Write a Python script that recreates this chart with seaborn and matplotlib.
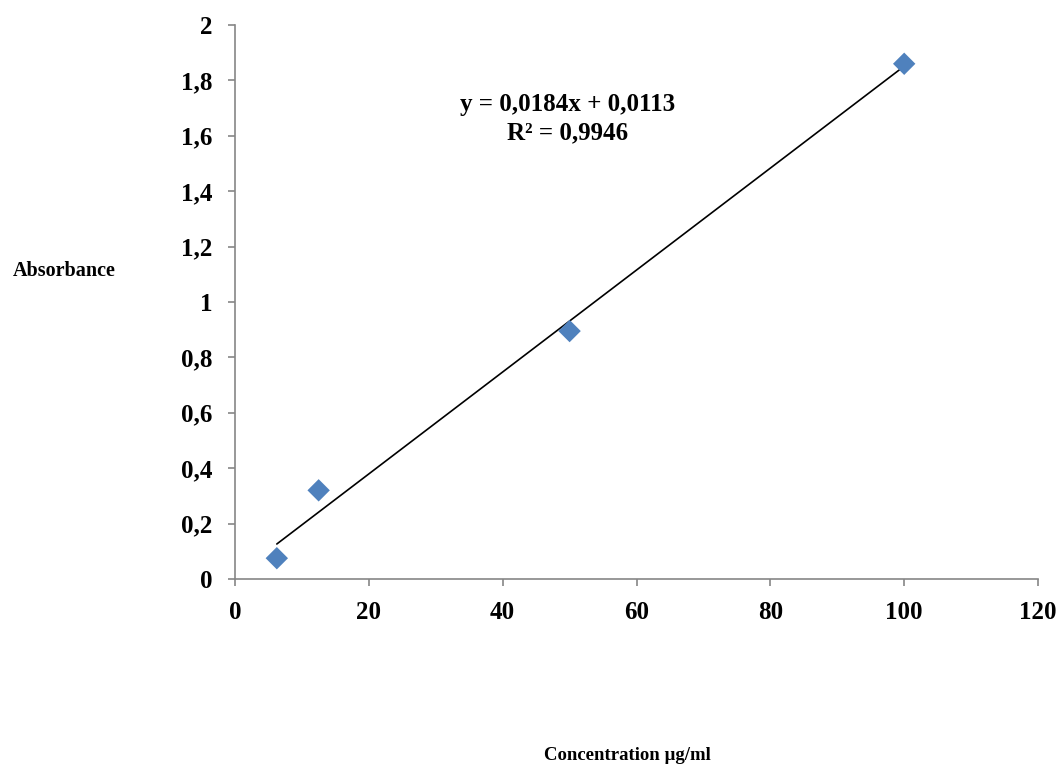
import numpy as np
import pandas as pd
import matplotlib
matplotlib.use("Agg")
import matplotlib.pyplot as plt
import seaborn as sns
from matplotlib.ticker import FuncFormatter, MultipleLocator

# calibration data
concentration = [6.25, 12.5, 50, 100]
absorbance = [0.075, 0.32, 0.895, 1.86]

# trendline as printed on the chart
slope = 0.0184
intercept = 0.0113
r2 = 0.9946

df = pd.DataFrame({"conc": concentration, "abs": absorbance})

sns.set_style("white")
plt.rcParams["font.family"] = ["Liberation Serif", "DejaVu Serif"]
plt.rcParams["font.weight"] = "bold"
plt.rcParams["text.color"] = "black"
plt.rcParams["xtick.color"] = "black"
plt.rcParams["ytick.color"] = "black"

fig = plt.figure(figsize=(10.59, 7.69), dpi=100)
ax = fig.add_axes([0.2219, 0.2471, 0.7583, 0.7204])

# trendline from the equation over the data range
x_fit = np.array([min(concentration), max(concentration)])
sns.lineplot(x=x_fit, y=slope * x_fit + intercept, color="black", linewidth=1.2, ax=ax)

sns.scatterplot(data=df, x="conc", y="abs", marker="D", s=130,
                color="#4F81BD", edgecolor="none", ax=ax, zorder=3)

ax.set_xlim(0, 120)
ax.set_ylim(0, 2)
ax.xaxis.set_major_locator(MultipleLocator(20))
ax.yaxis.set_major_locator(MultipleLocator(0.2))
fmt = FuncFormatter(lambda v, p: ("%g" % round(v, 2)).replace(".", ","))
ax.xaxis.set_major_formatter(fmt)
ax.yaxis.set_major_formatter(fmt)

for side in ["top", "right"]:
    ax.spines[side].set_visible(False)
for side in ["left", "bottom"]:
    ax.spines[side].set_color("#868686")
    ax.spines[side].set_linewidth(1.2)

ax.tick_params(axis="both", direction="out", length=5, width=1.2, color="#868686",
               labelcolor="black", labelsize=18, pad=11, bottom=True, left=True)
for lab in ax.get_xticklabels() + ax.get_yticklabels():
    lab.set_fontweight("bold")

ax.set_xlabel("")
ax.set_ylabel("")
fig.text(0.061, 1 - 271 / 769, "Absorbance", ha="center", va="center",
         fontsize=14.5, fontweight="bold")
fig.text(627 / 1059, 1 - 755 / 769, "Concentration µg/ml", ha="center", va="center",
         fontsize=13.5, fontweight="bold")

fig.text(568 / 1059, 1 - 119 / 769,
         "y = %sx + %s\nR² = %s" % (str(slope).replace(".", ","),
                                    str(intercept).replace(".", ","),
                                    str(r2).replace(".", ",")),
         ha="center", va="center", fontsize=18, fontweight="bold", linespacing=1.3)

fig.savefig("out.png", dpi=100)
